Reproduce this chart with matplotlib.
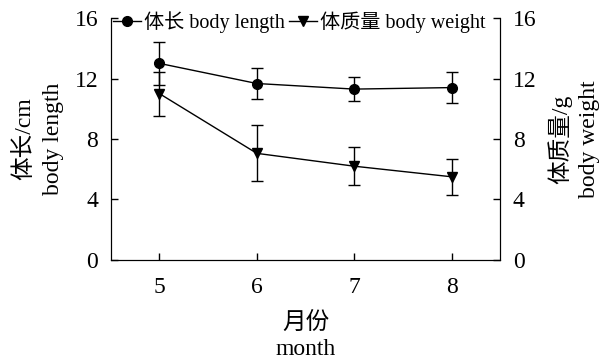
import matplotlib.pyplot as plt
from matplotlib.lines import Line2D

plt.rcParams['font.family'] = ['Liberation Serif', 'Noto Sans CJK SC']
plt.rcParams['font.size'] = 17
plt.rcParams['axes.unicode_minus'] = False

# monthly means and standard deviations
months = [5, 6, 7, 8]
length_mean = [13.0, 11.67, 11.3, 11.4]
length_sd = [1.4, 1.0, 0.78, 1.0]
weight_mean = [11.0, 7.05, 6.2, 5.5]
weight_sd = [1.45, 1.85, 1.25, 1.2]

fig = plt.figure(figsize=(6.02, 3.61), dpi=100)
ax = fig.add_axes([0.184, 0.28, 0.647, 0.67])
ax2 = ax.twinx()

ax.errorbar(months, length_mean, yerr=length_sd, fmt='-o', color='black',
            ms=7, lw=1, elinewidth=1, capsize=4.5, capthick=1)
ax.errorbar(months, weight_mean, yerr=weight_sd, fmt='-v', color='black',
            ms=7, lw=1, elinewidth=1, capsize=4.5, capthick=1)

for a in (ax, ax2):
    a.set_ylim(0, 16)
    a.set_yticks([0, 4, 8, 12, 16])
    a.spines['top'].set_visible(False)
    a.tick_params(direction='in', length=5, width=1, labelsize=17)
ax.set_xlim(4.5, 8.5)
ax.set_xticks(months)
ax.tick_params(axis='x', pad=12)
ax.tick_params(axis='y', pad=9)
ax2.tick_params(axis='y', pad=9)

ax.set_ylabel('体长/cm\nbody length', fontsize=17, labelpad=8, linespacing=1.45)
ax2.set_ylabel('体质量/g\nbody weight', fontsize=17, labelpad=8,
               linespacing=1.45, rotation=90)
ax.set_xlabel('月份\nmonth', fontsize=17, labelpad=10, linespacing=1.35)

handles = [Line2D([], [], color='black', lw=1, marker='o', ms=7),
           Line2D([], [], color='black', lw=1, marker='v', ms=7)]
ax.legend(handles, ['体长 body length', '体质量 body weight'],
          loc='upper left', bbox_to_anchor=(0.005, 1.03),
          ncol=2, frameon=False, fontsize=14.5, handlelength=1.4,
          handletextpad=0.15, columnspacing=0.2, borderaxespad=0,
          borderpad=0)

fig.savefig('out.png', dpi=100)
